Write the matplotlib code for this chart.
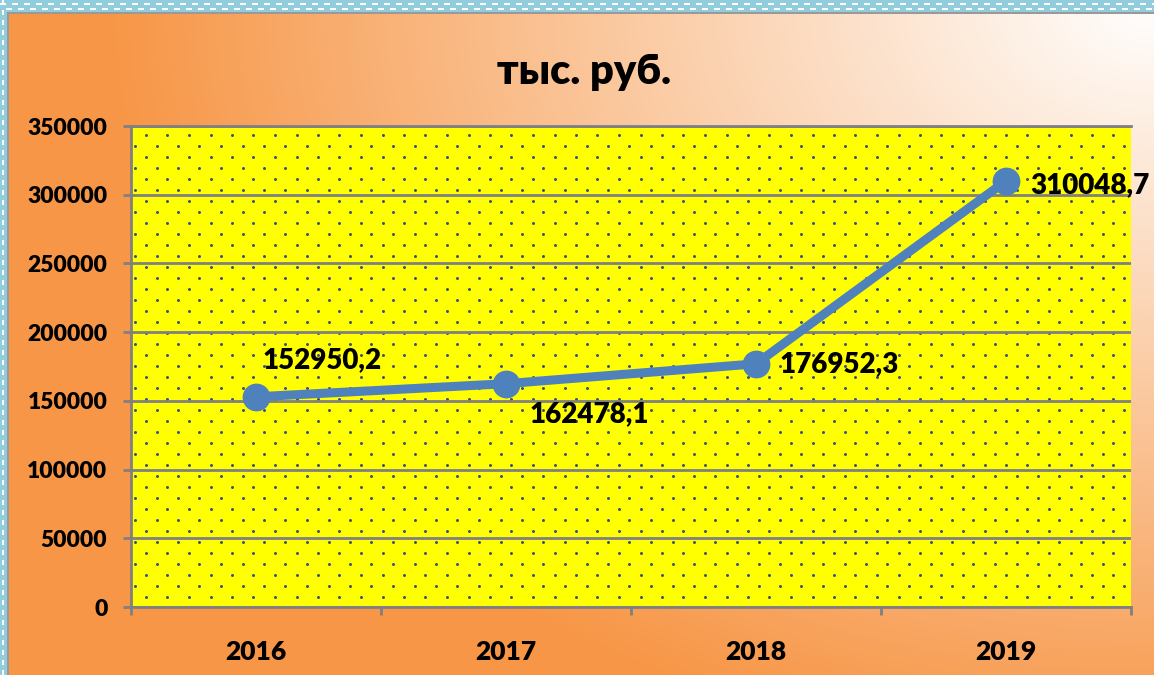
import numpy as np
import matplotlib.pyplot as plt

plt.rcParams['font.family'] = ['Lato', 'DejaVu Sans']
plt.rcParams['font.weight'] = 'heavy'

years = ['2016', '2017', '2018', '2019']
values = [152950.2, 162478.1, 176952.3, 310048.7]
yticks = [0, 50000, 100000, 150000, 200000, 250000, 300000, 350000]
title = 'тыс. руб.'

# label offsets in pixels (dx, dy)
label_offsets = [(7, 37), (24, -30), (24, 0), (24, -4)]

W, H = 1154, 675
fig = plt.figure(figsize=(W / 100, H / 100), dpi=100)

# background: orange gradient, lighter to the top right, blue dotted frame
bg = fig.add_axes([0, 0, 1, 1])
bg.axis('off')
yy, xx = np.mgrid[0:H, 0:W]
u = (W - xx) / W
v = yy / H * 0.8
f = np.clip(1 - 1.1 * np.sqrt(u ** 2 + v ** 2), 0, 1)[..., None]
orange = np.array([247, 150, 70]) / 255
img = orange + (1 - orange) * f
blue = np.array([146, 205, 221]) / 255
img[:12, :] = blue
img[:, :7] = blue
cols = np.arange(W)
rows = np.arange(H)
img[3:5, (cols % 12) < 6] = 1
img[8:10, ((cols + 6) % 12) < 6] = 1
img[(rows % 10) < 5, 2:4] = 1
img[12:14, 7:] = 0.6
img[12:, 7:9] = 0.6
bg.imshow(img, aspect='auto', interpolation='nearest')

# plot area
ax = fig.add_axes([131 / W, (H - 607) / H, 1000 / W, 481 / H])
ax.set_facecolor('none')

ph, pw = 481, 1000
pat = np.ones((ph, pw, 3)) * np.array([1, 1, 0])
dot = np.array([60, 85, 115]) / 255
halo = np.array([150, 160, 80]) / 255
for r, y0 in enumerate(range(9, ph, 11)):
    x0 = 15 if r % 2 == 0 else 4
    for x in np.arange(x0, pw, 21.5):
        xi = int(round(x))
        pat[y0 - 1:y0 + 2, xi - 1:xi + 2] = halo
        pat[y0:y0 + 1, xi - 1:xi + 2] = dot
        pat[y0 - 1:y0 + 2, xi:xi + 1] = dot
ax.imshow(pat, extent=(-0.5, 3.5, 0, 350000), aspect='auto',
          interpolation='nearest', zorder=0)

ax.set_xlim(-0.5, 3.5)
ax.set_ylim(0, 350000)
ax.set_yticks(yticks)
ax.set_yticklabels([str(t) for t in yticks])
ax.yaxis.grid(True, color='#808080', lw=2)

ax.set_xticks(np.arange(len(years) + 1) - 0.5)
ax.set_xticklabels([])
ax.set_xticks(range(len(years)), minor=True)
ax.set_xticklabels(years, minor=True)
ax.tick_params(axis='x', which='minor', length=0, pad=24, labelsize=19)
ax.tick_params(axis='x', which='major', length=6, width=2, color='#808080')
ax.tick_params(axis='y', length=6, width=2, color='#808080', pad=11, labelsize=16.5)

ax.spines['right'].set_visible(False)
for s in ['left', 'bottom', 'top']:
    ax.spines[s].set_color('#808080')
    ax.spines[s].set_linewidth(2)

ax.plot(range(len(years)), values, color='#4F81BD', lw=6.5, marker='o',
        ms=19, zorder=3, clip_on=False)

for i, val in enumerate(values):
    txt = f'{val:.1f}'.replace('.', ',')
    ax.annotate(txt, (i, val), xytext=label_offsets[i], textcoords='offset pixels',
                ha='left', va='center', fontsize=20, zorder=4)

fig.text(584 / W, 1 - 72 / H, title, ha='center', va='center', fontsize=30)

fig.savefig('out.png', dpi=100)
